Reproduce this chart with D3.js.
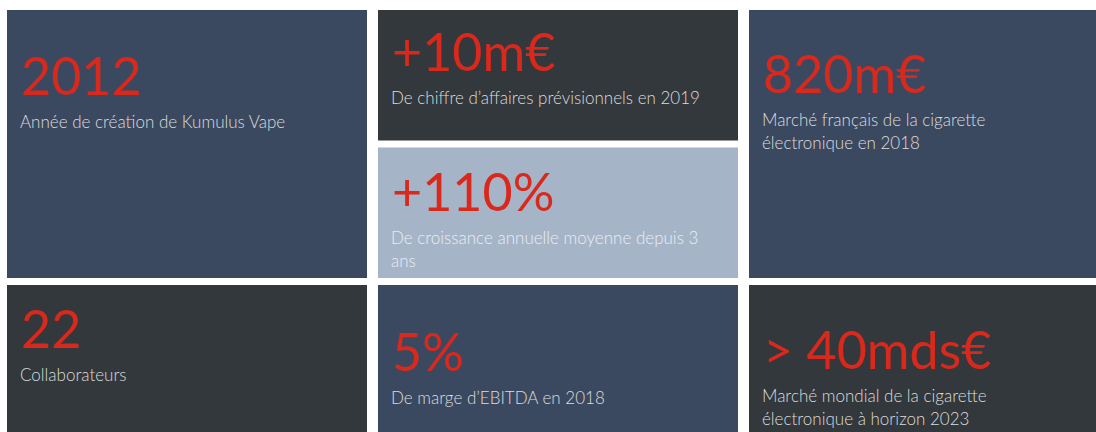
<!DOCTYPE html>
<html>
<head>
<meta charset="utf-8">
<script src="https://cdn.jsdelivr.net/npm/d3@7"></script>
<style>
  html, body { margin: 0; padding: 0; background: #fff; overflow: hidden; }
  svg { display: block; }
</style>
</head>
<body>
<div id="chart"></div>
<script>
// key figures, read in reading order of the tiles
const figures = ['2012', '+10m€', '+110%', '820m€', '22', '5%', '> 40mds€'];
const captions = [
  ['Année de création de Kumulus Vape'],
  ['De chiffre d’affaires prévisionnels en 2019'],
  ['De croissance annuelle moyenne depuis 3', 'ans'],
  ['Marché français de la cigarette', 'électronique en 2018'],
  ['Collaborateurs'],
  ['De marge d’EBITDA en 2018'],
  ['Marché mondial de la cigarette', 'électronique à horizon 2023']
];
const tileKinds = ['navy', 'slate', 'pale', 'navy', 'slate', 'navy', 'slate'];

// grid placement (column, start half-row, span in half-rows, figure baseline)
const grid = [
  { col: 0, row: 0, span: 2, base: 85 },
  { col: 1, row: 0, span: 1, base: 61 },
  { col: 1, row: 1, span: 1, base: 63 },
  { col: 2, row: 0, span: 2, base: 83 },
  { col: 0, row: 2, span: 2, base: 63 },
  { col: 1, row: 2, span: 2, base: 86 },
  { col: 2, row: 2, span: 2, base: 84 }
];

const width = 1096, height = 432;
const fill = { navy: '#3b4960', slate: '#32383c', pale: '#a6b4c8' };
const textFill = { navy: '#dcdcdc', slate: '#dcdcdc', pale: '#e9edf3' };
const red = '#d9281c';

const svg = d3.select('#chart').append('svg')
  .attr('width', width)
  .attr('height', height);

const x = d3.scaleBand()
  .domain([0, 1, 2])
  .range([7, 1109])
  .paddingInner(11 / 371)
  .paddingOuter(0);

const gap = 7;
const y = d3.scaleLinear().domain([0, 4]).range([10, 10 + 4 * 137.5]);

const tiles = svg.selectAll('g.tile')
  .data(figures.map((f, i) => ({ figure: f, lines: captions[i], kind: tileKinds[i], ...grid[i] })))
  .join('g')
  .attr('class', 'tile')
  .attr('transform', d => `translate(${x(d.col)},${y(d.row)})`);

tiles.append('rect')
  .attr('width', x.bandwidth())
  .attr('height', d => y(d.row + d.span) - y(d.row) - gap)
  .attr('fill', d => fill[d.kind]);

tiles.append('text')
  .attr('x', 14)
  .attr('y', d => d.base)
  .attr('fill', red)
  .style('font-family', 'Lato, "Open Sans", sans-serif')
  .style('font-size', '52px')
  .text(d => d.figure);

tiles.append('text')
  .attr('x', 13)
  .attr('y', d => d.base + 33)
  .attr('fill', d => textFill[d.kind])
  .style('font-family', 'Lato, "Open Sans", sans-serif')
  .style('font-weight', 300)
  .style('font-size', '17px')
  .selectAll('tspan')
  .data(d => d.lines)
  .join('tspan')
  .attr('x', 13)
  .attr('dy', (d, i) => i === 0 ? 0 : 23)
  .text(d => d);
</script>
</body>
</html>
